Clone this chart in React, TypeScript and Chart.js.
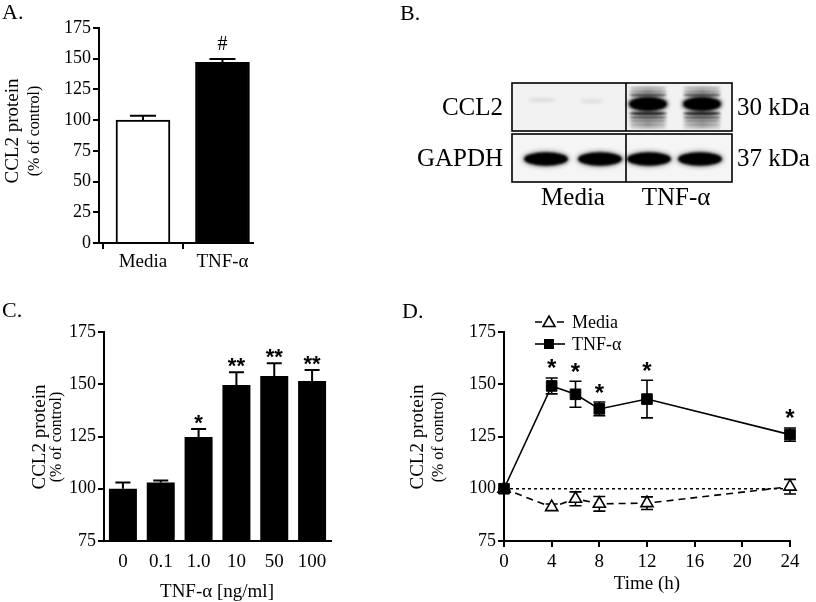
import React, { useEffect, useRef } from 'react';
import { Chart, registerables } from 'chart.js';
Chart.register(...registerables);

const SERIF = '"Liberation Serif", "Times New Roman", serif';
const SANS = '"Liberation Sans", Arial, sans-serif';

// ---------- Panel A ----------
const groupsA = ['Media', 'TNF-α'];
const meanA = [100, 147];
const semA = [3.6, 2.8];
const sigA = ['', '#'];

// ---------- Panel B (blot labels) ----------
const blotRows = ['CCL2', 'GAPDH'];
const blotSizes = ['30 kDa', '37 kDa'];
const blotGroups = ['Media', 'TNF-α'];

// ---------- Panel C ----------
const doseLabels = ['0', '0.1', '1.0', '10', '50', '100'];
const doseMean = [100, 103, 124.8, 149.6, 154, 151.5];
const doseSem = [3, 1, 3.8, 6.2, 6, 5.3];
const doseSig = ['', '', '*', '**', '**', '**'];

// ---------- Panel D ----------
const timeHours = [0, 4, 6, 8, 12, 24];
const mediaMean = [100, 91.2, 95.2, 92.8, 93.1, 101];
const mediaSem = [0, 1.5, 3.3, 3.5, 3, 3.5];
const tnfMean = [100, 149.2, 145.2, 138.2, 142.9, 125.9];
const tnfSem = [0, 3.8, 6.2, 3.3, 9, 3.2];
const tnfSig = ['', '*', '*', '*', '*', '*'];
const seriesNames = ['Media', 'TNF-α'];

function vText(ctx: CanvasRenderingContext2D, text: string, x: number, y: number, font: string) {
  ctx.save();
  ctx.translate(x, y);
  ctx.rotate(-Math.PI / 2);
  ctx.font = font;
  ctx.fillStyle = '#000';
  ctx.textAlign = 'center';
  ctx.textBaseline = 'middle';
  ctx.fillText(text, 0, 0);
  ctx.restore();
}

function hText(ctx: CanvasRenderingContext2D, text: string, x: number, y: number, font: string, align: CanvasTextAlign = 'left', baseline: CanvasTextBaseline = 'alphabetic') {
  ctx.save();
  ctx.font = font;
  ctx.fillStyle = '#000';
  ctx.textAlign = align;
  ctx.textBaseline = baseline;
  ctx.fillText(text, x, y);
  ctx.restore();
}

const axisGrid = { display: true, drawOnChartArea: false, drawTicks: true, tickLength: 6, color: '#000', lineWidth: 2 };
const axisBorder = { display: true, color: '#000', width: 2 };
const yTickFont = { family: SERIF, size: 18 };
const xTickFont = { family: SERIF, size: 19 };

function ChartCanvas({ left, top, width, height, build }: any) {
  const ref = useRef<HTMLCanvasElement>(null);
  useEffect(() => {
    const chart = new Chart(ref.current as HTMLCanvasElement, build());
    return () => chart.destroy();
  }, []);
  return (
    <canvas
      ref={ref}
      width={width}
      height={height}
      style={{ position: 'absolute', left, top, width, height }}
    />
  );
}

function buildA() {
  const plugin = {
    id: 'panelA',
    afterDatasetsDraw(chart: any) {
      const { ctx, scales } = chart;
      const x = scales.x, y = scales.y;
      ctx.save();
      ctx.strokeStyle = '#000';
      ctx.lineWidth = 2;
      meanA.forEach((m, i) => {
        const px = x.getPixelForValue(i);
        const base = y.getPixelForValue(m);
        const top = y.getPixelForValue(m + semA[i]);
        ctx.beginPath();
        ctx.moveTo(px, base);
        ctx.lineTo(px, top);
        ctx.moveTo(px - 13, top);
        ctx.lineTo(px + 13, top);
        ctx.stroke();
        if (sigA[i]) hText(ctx, sigA[i], px, top - 9, `20px ${SERIF}`, 'center');
      });
      ctx.restore();
      hText(ctx, 'A.', 2, 19, `22px ${SERIF}`);
      vText(ctx, 'CCL2 protein', 13, 131, `19px ${SERIF}`);
      vText(ctx, '(% of control)', 35, 131, `16px ${SERIF}`);
    },
  };
  return {
    type: 'bar',
    data: {
      datasets: [
        {
          data: meanA.map((v, i) => ({ x: i, y: v })),
          backgroundColor: ['#ffffff', '#000000'],
          borderColor: '#000',
          borderWidth: 2,
          barThickness: 54,
        },
      ],
    },
    options: {
      responsive: false,
      animation: false,
      devicePixelRatio: 1,
      layout: { autoPadding: false, padding: { left: 0, right: 17, top: 28, bottom: 0 } },
      plugins: { legend: { display: false }, tooltip: { enabled: false } },
      scales: {
        x: {
          type: 'linear',
          offset: false,
          min: -0.553,
          max: 1.384,
          afterBuildTicks: (a: any) => {
            a.ticks = groupsA.map((_, i) => ({ value: i }));
          },
          ticks: { callback: (v: any) => groupsA[v], font: xTickFont, color: '#000', padding: 2, maxRotation: 0, autoSkip: false },
          grid: axisGrid,
          border: axisBorder,
          afterFit: (s: any) => {
            s.height = 47;
          },
        },
        y: {
          min: 0,
          max: 175,
          ticks: { stepSize: 25, font: yTickFont, color: '#000', padding: 2 },
          grid: axisGrid,
          border: axisBorder,
          afterFit: (s: any) => {
            s.width = 99;
          },
        },
      },
    },
    plugins: [plugin],
  };
}

function buildC() {
  const plugin = {
    id: 'panelC',
    afterDatasetsDraw(chart: any) {
      const { ctx, scales } = chart;
      const x = scales.x, y = scales.y;
      ctx.save();
      ctx.strokeStyle = '#000';
      ctx.lineWidth = 2;
      doseMean.forEach((m, i) => {
        const px = x.getPixelForValue(i);
        const base = y.getPixelForValue(m);
        const top = y.getPixelForValue(m + doseSem[i]);
        ctx.beginPath();
        ctx.moveTo(px, base);
        ctx.lineTo(px, top);
        ctx.moveTo(px - 7.5, top);
        ctx.lineTo(px + 7.5, top);
        ctx.stroke();
        if (doseSig[i]) hText(ctx, doseSig[i], px, top + 1, `bold 22px ${SANS}`, 'center');
      });
      ctx.restore();
      hText(ctx, 'C.', 2, 17, `22px ${SERIF}`);
      vText(ctx, 'CCL2 protein', 40, 137, `19px ${SERIF}`);
      vText(ctx, '(% of control)', 57, 137, `16px ${SERIF}`);
      hText(ctx, 'TNF-α [ng/ml]', 217, 292, `19px ${SERIF}`, 'center', 'middle');
    },
  };
  return {
    type: 'bar',
    data: {
      labels: doseLabels,
      datasets: [
        {
          data: doseMean,
          backgroundColor: '#000',
          borderWidth: 0,
          barPercentage: 0.74,
          categoryPercentage: 1,
        },
      ],
    },
    options: {
      responsive: false,
      animation: false,
      devicePixelRatio: 1,
      layout: { autoPadding: false, padding: { left: 0, right: 69, top: 32, bottom: 0 } },
      plugins: { legend: { display: false }, tooltip: { enabled: false } },
      scales: {
        x: {
          ticks: { font: xTickFont, color: '#000', padding: 10, maxRotation: 0, autoSkip: false },
          grid: { display: false, drawTicks: false },
          border: axisBorder,
          afterFit: (s: any) => {
            s.height = 61;
          },
        },
        y: {
          min: 75,
          max: 175,
          ticks: { stepSize: 25, font: yTickFont, color: '#000', padding: 2 },
          grid: axisGrid,
          border: axisBorder,
          afterFit: (s: any) => {
            s.width = 104;
          },
        },
      },
    },
    plugins: [plugin],
  };
}

function buildD() {
  const drawErr = (ctx: any, x: any, y: any, means: number[], sems: number[]) => {
    means.forEach((m, i) => {
      if (!sems[i]) return;
      const px = x.getPixelForValue(timeHours[i]);
      const hi = y.getPixelForValue(m + sems[i]);
      const lo = y.getPixelForValue(m - sems[i]);
      ctx.beginPath();
      ctx.moveTo(px, lo);
      ctx.lineTo(px, hi);
      ctx.moveTo(px - 6, hi);
      ctx.lineTo(px + 6, hi);
      ctx.moveTo(px - 6, lo);
      ctx.lineTo(px + 6, lo);
      ctx.stroke();
    });
  };
  const plugin = {
    id: 'panelD',
    beforeDatasetsDraw(chart: any) {
      const { ctx, scales } = chart;
      ctx.save();
      ctx.strokeStyle = '#000';
      ctx.lineWidth = 1.6;
      drawErr(ctx, scales.x, scales.y, mediaMean, mediaSem);
      drawErr(ctx, scales.x, scales.y, tnfMean, tnfSem);
      ctx.restore();
    },
    afterDatasetsDraw(chart: any) {
      const { ctx, scales } = chart;
      const x = scales.x, y = scales.y;
      tnfMean.forEach((m, i) => {
        if (!tnfSig[i]) return;
        const px = x.getPixelForValue(timeHours[i]);
        const top = y.getPixelForValue(m + tnfSem[i]);
        hText(ctx, tnfSig[i], px, top - 1.5, `bold 24px ${SANS}`, 'center');
      });
      hText(ctx, 'D.', 2, 18, `22px ${SERIF}`);
      vText(ctx, 'CCL2 protein', 18, 137, `19px ${SERIF}`);
      vText(ctx, '(% of control)', 39, 137, `16px ${SERIF}`);
      hText(ctx, 'Time (h)', 247, 284, `19px ${SERIF}`, 'center', 'middle');
      // legend
      ctx.save();
      ctx.strokeStyle = '#000';
      ctx.lineWidth = 1.6;
      ctx.setLineDash([7, 4]);
      ctx.beginPath();
      ctx.moveTo(135, 22);
      ctx.lineTo(167, 22);
      ctx.stroke();
      ctx.setLineDash([]);
      ctx.fillStyle = '#fff';
      ctx.beginPath();
      ctx.moveTo(149, 16);
      ctx.lineTo(155, 26.5);
      ctx.lineTo(143, 26.5);
      ctx.closePath();
      ctx.fill();
      ctx.stroke();
      ctx.beginPath();
      ctx.moveTo(135, 44);
      ctx.lineTo(165, 44);
      ctx.stroke();
      ctx.fillStyle = '#000';
      ctx.fillRect(144, 39, 10, 10);
      ctx.restore();
      hText(ctx, seriesNames[0], 172, 23, `18px ${SERIF}`, 'left', 'middle');
      hText(ctx, seriesNames[1], 172, 45, `18px ${SERIF}`, 'left', 'middle');
    },
  };
  return {
    type: 'line',
    data: {
      datasets: [
        {
          label: seriesNames[1],
          data: timeHours.map((t, i) => ({ x: t, y: tnfMean[i] })),
          borderColor: '#000',
          borderWidth: 1.6,
          pointStyle: 'rect',
          pointRadius: 7.5,
          pointBackgroundColor: '#000',
          pointBorderColor: '#000',
          pointBorderWidth: 1,
          tension: 0,
          clip: false,
          order: 0,
        },
        {
          label: seriesNames[0],
          data: timeHours.map((t, i) => ({ x: t, y: mediaMean[i] })),
          borderColor: '#000',
          borderWidth: 1.6,
          borderDash: [7, 5],
          pointStyle: 'triangle',
          pointRadius: 7,
          pointBackgroundColor: '#fff',
          pointBorderColor: '#000',
          pointBorderWidth: 1.6,
          tension: 0,
          clip: false,
          order: 1,
        },
        {
          label: 'baseline',
          data: [
            { x: timeHours[0], y: 100 },
            { x: timeHours[timeHours.length - 1], y: 100 },
          ],
          borderColor: '#000',
          borderWidth: 1.5,
          borderDash: [3, 3],
          pointRadius: 0,
          clip: false,
          order: 2,
        },
      ],
    },
    options: {
      responsive: false,
      animation: false,
      devicePixelRatio: 1,
      layout: { autoPadding: false, padding: { left: 0, right: 26, top: 32, bottom: 0 } },
      plugins: { legend: { display: false }, tooltip: { enabled: false } },
      scales: {
        x: {
          type: 'linear',
          min: 0,
          max: 24,
          ticks: { stepSize: 4, font: xTickFont, color: '#000', padding: 4, maxRotation: 0 },
          grid: axisGrid,
          border: axisBorder,
          afterFit: (s: any) => {
            s.height = 61;
          },
        },
        y: {
          min: 75,
          max: 175,
          ticks: { stepSize: 25, font: yTickFont, color: '#000', padding: 2 },
          grid: axisGrid,
          border: axisBorder,
          afterFit: (s: any) => {
            s.width = 104;
          },
        },
      },
    },
    plugins: [plugin],
  };
}

function Blot() {
  const ref = useRef<HTMLCanvasElement>(null);
  useEffect(() => {
    const c = ref.current as HTMLCanvasElement;
    const ctx = c.getContext('2d') as CanvasRenderingContext2D;
    ctx.clearRect(0, 0, c.width, c.height);
    ctx.save();
    ctx.translate(-380, 0);
    hText(ctx, 'B.', 400, 20, `22px ${SERIF}`);
    const L = 512, R = 732, M = 626;
    const boxes = [
      { top: 83, bottom: 131, bg: '#f2f2f2' },
      { top: 134, bottom: 182, bg: '#f5f5f5' },
    ];
    const blob = (cx: number, cy: number, rx: number, ry: number, alpha: number, blur: number) => {
      ctx.save();
      ctx.filter = `blur(${blur}px)`;
      ctx.fillStyle = `rgba(0,0,0,${alpha})`;
      ctx.beginPath();
      ctx.ellipse(cx, cy, rx, ry, 0, 0, Math.PI * 2);
      ctx.fill();
      ctx.restore();
    };
    boxes.forEach((b, bi) => {
      ctx.save();
      ctx.beginPath();
      ctx.rect(L, b.top, R - L, b.bottom - b.top);
      ctx.clip();
      ctx.fillStyle = b.bg;
      ctx.fillRect(L, b.top, R - L, b.bottom - b.top);
      if (bi === 0) {
        blob(542, 100, 14, 2.5, 0.08, 1.5);
        blob(592, 101, 12, 2.5, 0.07, 1.5);
        [648, 702].forEach((cx) => {
          const stripes = [
            [88, 1.4, 0.35],
            [91.5, 1.4, 0.5],
            [95, 1.6, 0.7],
            [113.5, 2.0, 0.85],
            [117.5, 1.6, 0.7],
            [121, 1.5, 0.55],
            [124.5, 1.4, 0.45],
            [127.5, 1.2, 0.3],
          ];
          stripes.forEach(([y, h, a]) => blob(cx, y, 19, h, a, 0.8));
          blob(cx, 104, 20, 8, 0.8, 2.2);
          blob(cx, 104, 18.5, 6.5, 1, 1.2);
        });
      } else {
        [546, 600, 649, 700].forEach((cx) => {
          blob(cx, 159, 24, 8.5, 0.35, 2.2);
          blob(cx, 159, 22, 6.8, 1, 1.2);
        });
      }
      ctx.restore();
      ctx.save();
      ctx.strokeStyle = '#000';
      ctx.lineWidth = 1.6;
      ctx.strokeRect(L, b.top, R - L, b.bottom - b.top);
      ctx.beginPath();
      ctx.moveTo(M, b.top);
      ctx.lineTo(M, b.bottom);
      ctx.stroke();
      ctx.restore();
      const cy = (b.top + b.bottom) / 2 + 1;
      hText(ctx, blotRows[bi], 503, cy, `25px ${SERIF}`, 'right', 'middle');
      hText(ctx, blotSizes[bi], 737, cy, `25px ${SERIF}`, 'left', 'middle');
    });
    hText(ctx, blotGroups[0], 573, 198, `25px ${SERIF}`, 'center', 'middle');
    hText(ctx, blotGroups[1], 676, 198, `25px ${SERIF}`, 'center', 'middle');
    ctx.restore();
  }, []);
  return <canvas ref={ref} width={436} height={215} style={{ position: 'absolute', left: 380, top: 0, width: 436, height: 215 }} />;
}

export default function App() {
  return (
    <div
      style={{
        position: 'fixed',
        left: 0,
        top: 0,
        width: 816,
        height: 602,
        background: '#fff',
        overflow: 'hidden',
      }}
    >
      <ChartCanvas left={0} top={0} width={270} height={290} build={buildA} />
      <Blot />
      <ChartCanvas left={0} top={300} width={400} height={302} build={buildC} />
      <ChartCanvas left={400} top={300} width={416} height={302} build={buildD} />
    </div>
  );
}
